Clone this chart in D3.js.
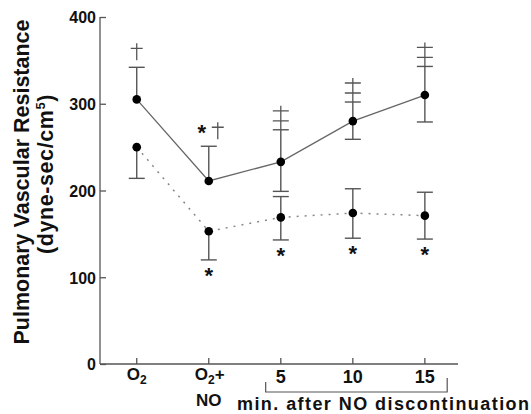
<!DOCTYPE html>
<html>
<head>
<meta charset="utf-8">
<script src="https://cdn.jsdelivr.net/npm/d3@7"></script>
<style>
  body { margin: 0; background: #fff; }
  svg text { font-family: "Liberation Sans", Arial, sans-serif; font-weight: bold; fill: #111; }
</style>
</head>
<body>
<svg width="531" height="414"></svg>
<script>
// values (dyne-sec/cm5)
const categories = ["O2", "O2+NO", "5", "10", "15"];
const solidMean  = [305, 211, 233, 280, 310];
const solidUpper = [342, 251, 270, 302, 343];
const solidLower = [null, null, 199, 259, 279];
const dashMean   = [250, 153, 169, 174, 171];
const dashUpper  = [null, null, 193, 202, 198];
const dashLower  = [214, 120, 143, 145, 144];
const yTicks = [0, 100, 200, 300, 400];
// significance marks: above solid series (dagger / double dagger), below dashed series
const solidAst   = [false, true, false, false, false];
const solidDag   = [1, 1, 2, 2, 2];
const dashAst    = [false, true, true, true, true];

const svg = d3.select("svg");

const x = d3.scaleLinear().domain([-0.51, 4.46]).range([100, 458]);
const y = d3.scaleLinear().domain([0, 400]).range([364, 17]);

const axisCol = "#555";

// y axis, ticks pointing inward
const yAxis = d3.axisLeft(y).tickValues(yTicks).tickSize(-6).tickPadding(4);
const gy = svg.append("g").attr("transform", "translate(100,0)").call(yAxis);
gy.select(".domain").remove();
gy.selectAll("text").style("font-size", "16px").attr("dy", "0.36em");
gy.selectAll(".tick line").attr("stroke", axisCol).attr("stroke-width", 1.3);

svg.append("line")
    .attr("x1", 100).attr("x2", 100)
    .attr("y1", y(400)).attr("y2", y(0))
    .attr("stroke", axisCol).attr("stroke-width", 1.3);
svg.append("line")
    .attr("x1", 100).attr("x2", 458)
    .attr("y1", y(0)).attr("y2", y(0))
    .attr("stroke", axisCol).attr("stroke-width", 1.3);

svg.append("g").selectAll("line").data(categories).enter().append("line")
    .attr("x1", (d, i) => x(i)).attr("x2", (d, i) => x(i))
    .attr("y1", y(0)).attr("y2", y(0) - 6)
    .attr("stroke", axisCol).attr("stroke-width", 1.3);

// x labels
const lab = svg.append("g").style("font-size", "17px");
const o2 = lab.append("text").attr("x", x(0)).attr("y", 380).attr("text-anchor", "middle");
o2.append("tspan").text("O");
o2.append("tspan").attr("dy", 4).style("font-size", "12px").text("2");
const o2no = lab.append("text").attr("x", x(1) + 1).attr("y", 380).attr("text-anchor", "middle");
o2no.append("tspan").text("O");
o2no.append("tspan").attr("dy", 4).style("font-size", "12px").text("2");
o2no.append("tspan").attr("dy", -4).text("+");
lab.append("text").attr("x", x(1)).attr("y", 406).attr("text-anchor", "middle").text("NO");
[2, 3, 4].forEach(i => {
    lab.append("text").attr("x", x(i)).attr("y", 383).attr("text-anchor", "middle")
        .style("font-size", "18px").text(categories[i]);
});
svg.append("path")
    .attr("d", `M${x(1.79)},382 V392 H${x(4.31)} V378`)
    .attr("fill", "none").attr("stroke", axisCol).attr("stroke-width", 1.2);
lab.append("text").attr("x", 237).attr("y", 410)
    .attr("textLength", 292).attr("lengthAdjust", "spacing")
    .style("font-size", "18px").text("min. after NO discontinuation");

// y label
const yl1 = svg.append("text")
    .attr("transform", "translate(29,182) rotate(-90)")
    .attr("text-anchor", "middle").style("font-size", "21.5px")
    .text("Pulmonary Vascular Resistance");
const yl2 = svg.append("text")
    .attr("transform", "translate(53,174) rotate(-90)")
    .attr("text-anchor", "middle").style("font-size", "21.5px")
    .style("letter-spacing", "0.6px");
yl2.append("tspan").text("(dyne-sec/cm");
yl2.append("tspan").attr("dy", -8).style("font-size", "13px").text("5");
yl2.append("tspan").attr("dy", 8).text(")");

// lines
const line = d3.line().x((d, i) => x(i)).y(d => y(d));
svg.append("path").datum(dashMean).attr("d", line)
    .attr("fill", "none").attr("stroke", "#888").attr("stroke-width", 1.5)
    .attr("stroke-dasharray", "2,6");
svg.append("path").datum(solidMean).attr("d", line)
    .attr("fill", "none").attr("stroke", "#666").attr("stroke-width", 1.3);

// error bars
function errBars(mean, upper, lower) {
    const g = svg.append("g").attr("stroke", "#555").attr("stroke-width", 1.4);
    mean.forEach((m, i) => {
        [upper[i], lower[i]].forEach(v => {
            if (v == null) return;
            g.append("line").attr("x1", x(i)).attr("x2", x(i)).attr("y1", y(m)).attr("y2", y(v));
            g.append("line").attr("x1", x(i) - 8).attr("x2", x(i) + 8).attr("y1", y(v)).attr("y2", y(v));
        });
    });
}
errBars(solidMean, solidUpper, solidLower);
errBars(dashMean, dashUpper, dashLower);

// dots
[solidMean, dashMean].forEach(s => {
    svg.append("g").selectAll("circle").data(s).enter().append("circle")
        .attr("cx", (d, i) => x(i)).attr("cy", d => y(d)).attr("r", 4.3).attr("fill", "#000");
});

// daggers above the solid series
const dg = svg.append("g").attr("stroke", "#555").attr("stroke-width", 1.3).attr("fill", "none");
solidDag.forEach((n, i) => {
    const cap = y(solidUpper[i]);
    const cx = solidAst[i] ? x(i) + 9 : x(i);
    if (n === 1) {
        dg.append("path").attr("d", `M${cx},${cap - 24} V${cap - 7} M${cx - 6},${cap - 19} H${cx + 6}`);
    } else {
        dg.append("path").attr("d", `M${x(i)},${cap - 24} V${cap} M${x(i) - 8},${cap - 19} H${x(i) + 8} M${x(i) - 8},${cap - 9} H${x(i) + 8}`);
    }
    if (solidAst[i]) {
        svg.append("text").attr("x", x(i) - 7).attr("y", cap - 6)
            .attr("text-anchor", "middle").style("font-size", "22px").text("*");
    }
});

// asterisks below the dashed series
svg.append("g").style("font-size", "22px")
    .selectAll("text").data(dashAst).enter().append("text")
    .attr("x", (d, i) => x(i)).attr("y", (d, i) => y(dashLower[i]) + 23)
    .attr("text-anchor", "middle").text(d => d ? "*" : "");
</script>
</body>
</html>
